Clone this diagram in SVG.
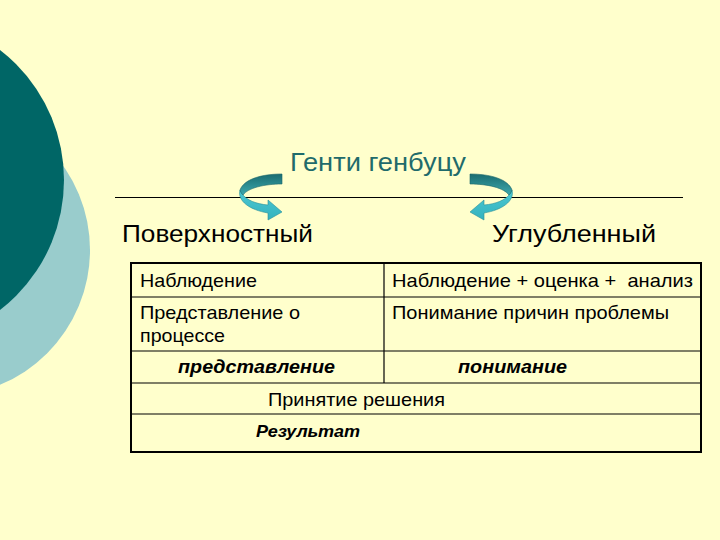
<svg xmlns="http://www.w3.org/2000/svg" width="720" height="540" viewBox="0 0 720 540">
<defs>
<style>
.t{font-family:"Liberation Sans",Arial,sans-serif;fill:#000}
.cell{font-size:19px}
.bi{font-weight:bold;font-style:italic}
.line{stroke:#000;stroke-width:1.2;fill:none}
.band1{fill:url(#ag1);stroke:#1a6468;stroke-width:0.6}
.band2{fill:url(#ag2);stroke:#2a8f99;stroke-width:0.6}
</style>
<linearGradient id="ag1" x1="0" y1="0" x2="0" y2="1">
<stop offset="0" stop-color="#1a6c70"/>
<stop offset="1" stop-color="#3ca8ae"/>
</linearGradient>
<linearGradient id="ag2" x1="0" y1="0" x2="0" y2="1">
<stop offset="0" stop-color="#4cc8d2"/>
<stop offset="1" stop-color="#34b2be"/>
</linearGradient>
<g id="arr">
<path class="band2" d="M240,190 C237,201 250,210 268,213 L268,220 L282,212 L268,200 L268,205 C256,204 247,200 243,195 Z"/>
<path class="band1" d="M282,174 C262,174 244,179 240,190 C241,193 242,194 243,195 C248,188 264,184 282,184 Z"/>
</g>
</defs>
<rect width="720" height="540" fill="#FFFFCC"/>
<g id="decor">
<circle cx="-56" cy="250" r="146" fill="#99CCCC"/>
<circle cx="-100" cy="180" r="164" fill="#006666"/>
</g>
<g id="title"><text class="t" x="290" y="171" font-size="25" textLength="176" lengthAdjust="spacingAndGlyphs" style="fill:#1f6b6b">Генти генбуцу</text></g>
<line x1="115" y1="197.5" x2="683" y2="197.5" stroke="#000" stroke-width="1.2"/>
<g id="connectors">
<use href="#arr"/>
<use href="#arr" transform="translate(752,0) scale(-1,1)"/>
</g>
<g id="surface"><text class="t" x="122" y="242" font-size="23" textLength="191" lengthAdjust="spacingAndGlyphs">Поверхностный</text></g>
<g id="deep"><text class="t" x="492" y="242" font-size="23" textLength="164" lengthAdjust="spacingAndGlyphs">Углубленный</text></g>
<g id="table">
<rect x="131" y="263" width="570" height="189" fill="none" stroke="#000" stroke-width="2"/>
<line class="line" x1="131" y1="297" x2="701" y2="297"/>
<line class="line" x1="131" y1="351" x2="701" y2="351"/>
<line class="line" x1="131" y1="383" x2="701" y2="383"/>
<line class="line" x1="131" y1="414" x2="701" y2="414"/>
<line class="line" x1="384" y1="263" x2="384" y2="383"/>
</g>
<g id="c11"><text class="t cell" x="140" y="287" textLength="117" lengthAdjust="spacingAndGlyphs">Наблюдение</text></g>
<g id="c12"><text class="t cell" x="392" y="287" xml:space="preserve" textLength="301" lengthAdjust="spacingAndGlyphs">Наблюдение + оценка +  анализ</text></g>
<g id="c21"><text class="t cell" x="140" y="319" textLength="160" lengthAdjust="spacingAndGlyphs">Представление о</text><text class="t cell" x="140" y="342" textLength="85" lengthAdjust="spacingAndGlyphs">процессе</text></g>
<g id="c22"><text class="t cell" x="392" y="319" textLength="277" lengthAdjust="spacingAndGlyphs">Понимание причин проблемы</text></g>
<g id="c31"><text class="t cell bi" x="178" y="373" textLength="157" lengthAdjust="spacingAndGlyphs">представление</text></g>
<g id="c32"><text class="t cell bi" x="458" y="373" textLength="109" lengthAdjust="spacingAndGlyphs">понимание</text></g>
<g id="c4"><text class="t cell" x="268" y="406" textLength="177" lengthAdjust="spacingAndGlyphs">Принятие решения</text></g>
<g id="c5"><text class="t bi" x="256" y="437" font-size="17" textLength="104" lengthAdjust="spacingAndGlyphs">Результат</text></g>
</svg>
